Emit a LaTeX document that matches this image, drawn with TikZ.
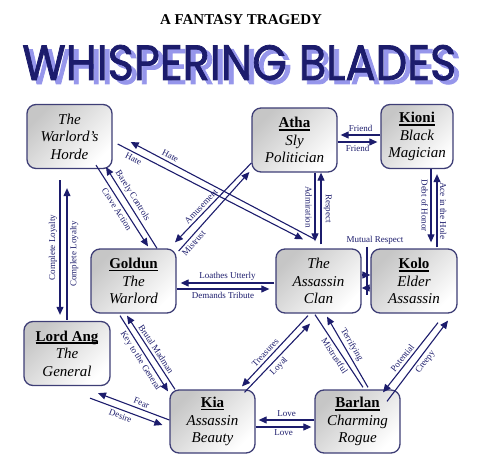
\documentclass[tikz,border=0pt]{standalone}
\usepackage{fontspec}
\usepackage{graphicx}
\setmainfont{Liberation Serif}
\newfontfamily\bladefont[FakeBold=1.6]{Poppins}
\usetikzlibrary{arrows.meta}
\definecolor{navy}{RGB}{28,28,108}
\definecolor{ghost}{RGB}{150,150,235}
\definecolor{rim}{RGB}{62,62,118}
\newcommand{\uname}[1]{\setbox0\hbox{\bfseries #1}\leavevmode\rlap{\vrule height -1.3pt depth 2.9pt width \wd0}\box0}
\newcommand{\bladetext}{\resizebox{434pt}{35pt}{\bladefont WHISPERING BLADES}}

\begin{document}
\begin{tikzpicture}[x=1pt, y=-1pt,
  person/.style={draw=rim, line width=1.3pt, rounded corners=9pt, top color=gray!45, bottom color=white, shading angle=45, minimum width=85pt, minimum height=64pt, align=center, inner sep=1pt, font=\fontsize{15}{17.5}\selectfont},
  rel/.style={draw=navy, line width=1.1pt, -{Triangle[length=8pt,width=7pt]}},
  wire/.style={draw=navy, line width=1.1pt},
  lab/.style={font=\fontsize{9}{10}\selectfont, text=navy, inner sep=2.5pt}
]
\useasboundingbox (0,0) rectangle (487,465);

% title
\node[font=\bfseries\fontsize{15}{17}\selectfont] (subtitle) at (241,19.5) {A FANTASY TRAGEDY};
\node[inner sep=0pt, anchor=base west] (title) at (22,80) {\rlap{\kern5pt\raisebox{-4pt}{\color{ghost}\bladetext}}\textcolor{navy}{\bladetext}};

% characters
\node[person] (horde) at (69.5,136.5) {\textit{The}\\\textit{Warlord's}\\\textit{Horde}};
\node[person] (atha) at (294.5,140) {\uname{Atha}\\\textit{Sly}\\\textit{Politician}};
\node[person, minimum width=72pt] (kioni) at (417,136.5) {\uname{Kioni}\\\textit{Black}\\\textit{Magician}};
\node[person] (goldun) at (133.5,281) {\uname{Goldun}\\\textit{The}\\\textit{Warlord}};
\node[person] (clan) at (318.5,281) {\textit{The}\\\textit{Assassin}\\\textit{Clan}};
\node[person, minimum width=86pt] (kolo) at (414,281) {\uname{Kolo}\\\textit{Elder}\\\textit{Assassin}};
\node[person, minimum width=86pt] (ang) at (67,353.5) {\uname{Lord Ang}\\\textit{The}\\\textit{General}};
\node[person, minimum height=63pt] (kia) at (212.5,421.5) {\uname{Kia}\\\textit{Assassin}\\\textit{Beauty}};
\node[person, minimum height=63pt] (barlan) at (357.5,421.5) {\uname{Barlan}\\\textit{Charming}\\\textit{Rogue}};

% horde
\draw[rel] ([xshift=5pt,yshift=-7.5pt]horde.east) -- node[lab, sloped, below, pos=0.1] {Hate} ([xshift=-15.5pt,yshift=9pt]clan.north);
\draw[rel] ([xshift=-3.5pt,yshift=9pt]clan.north) -- node[lab, sloped, above, pos=0.8] {Hate} ([xshift=18pt,yshift=-5.5pt]horde.east);
\draw[rel] ([xshift=26.5pt,yshift=4pt]horde.south) -- node[lab, sloped, below, pos=0.5] {Crave Action} ([xshift=14.5pt,yshift=2pt]goldun.north);
\draw[rel] ([xshift=23.5pt]goldun.north) -- node[lab, sloped, above, pos=0.6] {Barely Controls} ([xshift=36.5pt,yshift=2pt]horde.south);
\draw[rel] ([xshift=-9.5pt,yshift=-11pt]horde.south) -- node[lab, midway, rotate=90, anchor=south] {Complete Loyalty} ([xshift=-7pt,yshift=6pt]ang.north);
\draw[rel] ([yshift=1pt]ang.north) -- node[lab, midway, rotate=90, anchor=north] {Complete Loyalty} ([xshift=-2.5pt,yshift=-19pt]horde.south);

% goldun
\draw[rel] ([yshift=-23pt]atha.west) -- node[lab, sloped, above, pos=0.6] {Amusement} ([xshift=41.5pt,yshift=6pt]goldun.north);
\draw[rel] ([xshift=2pt,yshift=30pt]goldun.east) -- node[lab, sloped, below, pos=0.15] {Mistrust} ([xshift=-2pt,yshift=-32pt]atha.west);
\draw[rel] ([xshift=-1pt,yshift=-2pt]clan.west) -- node[lab, above, midway] {Loathes Utterly} ([xshift=4pt,yshift=-2pt]goldun.east);
\draw[rel] ([yshift=-8pt]goldun.east) -- node[lab, below, midway] {Demands Tribute} ([xshift=-6pt,yshift=-8pt]clan.west);
\draw[rel] ([xshift=-13.5pt,yshift=-2pt]goldun.south) -- node[lab, sloped, below, pos=0.55] {Key to the General} ([xshift=-44.5pt,yshift=-2pt]kia.north);
\draw[rel] ([xshift=-37.5pt]kia.north) -- node[lab, sloped, above, midway] {Brutal Madman} ([xshift=-6.5pt,yshift=-2pt]goldun.south);

% kia
\draw[rel] ([yshift=1.5pt]kia.west) -- node[lab, sloped, above, pos=0.42] {Fear} ([xshift=31pt,yshift=-7pt]ang.south);
\draw[rel] ([xshift=23pt,yshift=-12pt]ang.south) -- node[lab, sloped, below, pos=0.45] {Desire} ([xshift=-7pt,yshift=-3.5pt]kia.west);
\draw[rel] ([xshift=-10.5pt,yshift=-2pt]clan.south) -- node[lab, sloped, above, pos=0.58] {Treasures} ([xshift=29.5pt,yshift=3pt]kia.north);
\draw[rel] ([xshift=32pt,yshift=-3pt]kia.north) -- node[lab, sloped, below, pos=0.45] {Loyal} ([xshift=-8.5pt,yshift=-10pt]clan.south);
\draw[rel] ([yshift=1.5pt]barlan.west) -- node[lab, above, midway] {Love} ([xshift=3pt,yshift=1.5pt]kia.east);
\draw[rel] ([yshift=-5.5pt]kia.east) -- node[lab, below, midway] {Love} ([xshift=-3pt,yshift=-5.5pt]barlan.west);

% barlan
\draw[wire] ([xshift=-3.5pt,yshift=-1pt]clan.south) -- node[lab, sloped, below, pos=0.52] {Mistrustful} ([xshift=5.5pt,yshift=2pt]barlan.north);
\draw[rel] ([xshift=10.5pt,yshift=2pt]barlan.north) -- node[lab, sloped, above, pos=0.55] {Terrifying} ([xshift=8.5pt,yshift=-3pt]clan.south);
\draw[rel] ([xshift=24pt,yshift=-9pt]kolo.south) -- node[lab, sloped, above, pos=0.56] {Potential} ([xshift=25.5pt,yshift=-3pt]barlan.north);
\draw[rel] ([xshift=29.5pt,yshift=-12pt]barlan.north) -- node[lab, sloped, below, pos=0.54] {Creepy} ([xshift=34pt,yshift=-7pt]kolo.south);

% atha, kioni, kolo
\draw[rel] ([yshift=1.5pt]kioni.west) -- node[lab, above, midway] {Friend} ([xshift=3pt,yshift=5pt]atha.east);
\draw[rel] ([yshift=-2pt]atha.east) -- node[lab, below, midway] {Friend} ([xshift=-3pt,yshift=-5.5pt]kioni.west);
\draw[rel] ([xshift=20.5pt]atha.south) -- node[lab, midway, rotate=-90, anchor=north] {Admiration} ([xshift=-3.5pt,yshift=7pt]clan.north);
\draw[rel] ([xshift=2.5pt,yshift=4pt]clan.north) -- node[lab, midway, rotate=-90, anchor=south] {Respect} ([xshift=26.5pt]atha.south);
\draw[rel] ([xshift=14pt]kioni.south) -- node[lab, midway, rotate=-90, anchor=north] {Debt of Honor} ([xshift=17pt,yshift=6pt]kolo.north);
\draw[rel] ([xshift=23pt,yshift=1pt]kolo.north) -- node[lab, midway, rotate=-90, anchor=south] {Ace in the Hole} ([xshift=20pt,yshift=-5pt]kioni.south);
\node[lab] (mutual) at (375,240) {Mutual Respect};
\draw[wire] ([xshift=-8pt]mutual.south) -- ++(0,48);
\draw[rel] ([yshift=6pt]clan.east) -- ([yshift=6pt]kolo.west);
\draw[rel] ([yshift=-7pt]kolo.west) -- ([yshift=-7pt]clan.east);
\end{tikzpicture}
\end{document}
